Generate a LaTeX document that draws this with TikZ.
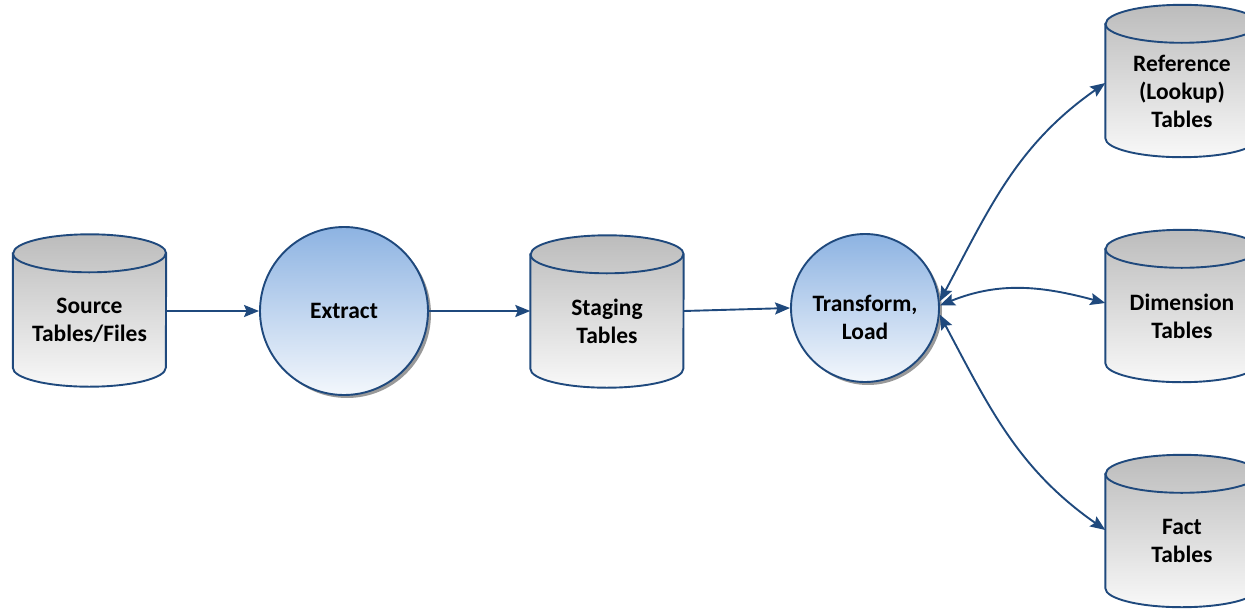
\documentclass[tikz,border=0pt]{standalone}
\usepackage{fontspec}
\setmainfont{Carlito}
\usetikzlibrary{shadows,arrows.meta}
\pgfdeclarelayer{bg}
\pgfsetlayers{bg,main}
\definecolor{linec}{HTML}{1F497D}
\definecolor{cyltop}{HTML}{BCBCBC}
\definecolor{cylbot}{HTML}{F8F8F8}
\definecolor{balltop}{HTML}{8DB3E2}
\definecolor{ballbot}{HTML}{F3F7FC}
\tikzset{
  lbl/.style={font=\fontsize{23.5}{28}\selectfont\bfseries, align=center},
  % a store is a 153 x 152 box; the drum outline is drawn behind it
  store/.style={rectangle, inner sep=0pt, minimum width=153pt, minimum height=152pt,
    label={[lbl, yshift=-10pt]center:#1}},
  drumline/.style={draw=linec, line width=1.9pt},
  proc/.style={lbl, circle, draw=linec, line width=1.9pt, inner sep=0pt,
    top color=balltop, bottom color=ballbot,
    drop shadow={shadow xshift=3pt, shadow yshift=-3pt, fill=black!50, opacity=0.8}},
  flow/.style={draw=linec, line width=1.9pt, -{Stealth[length=15pt, width=12pt, inset=2.5pt]}},
  flow2/.style={flow, {Stealth[length=15pt, width=12pt, inset=2.5pt]}-{Stealth[length=15pt, width=12pt, inset=2.5pt]}}
}
% drum (cylinder) outline for the store node #1
\newcommand\drum[1]{%
  \path[drumline, top color=cyltop, bottom color=cylbot]
    ([yshift=-19pt]#1.north west) -- ([yshift=19pt]#1.south west)
    arc[start angle=180, end angle=360, x radius=76.5pt, y radius=19pt]
    -- ([yshift=-19pt]#1.north east)
    arc[start angle=0, end angle=180, x radius=76.5pt, y radius=19pt] -- cycle;
  \draw[drumline] ([yshift=-19pt]#1.north west)
    arc[start angle=180, end angle=360, x radius=76.5pt, y radius=19pt];
}
\begin{document}
\begin{tikzpicture}[x=1pt, y=1pt]
  \useasboundingbox (0,0) rectangle (1245,-608);
  \clip (0,0) rectangle (1245,-608);

  % data stores
  \node[store={Source\\Tables/Files}]          (src)  at (89.5,-310.5) {};
  \node[store={Staging\\Tables}]               (stg)  at (607,-311.5)  {};
  \node[store={Reference\\(Lookup)\\Tables}]   (ref)  at (1182,-81)    {};
  \node[store={Dimension\\Tables}]             (dim)  at (1182,-306)   {};
  \node[store={Fact\\Tables}]                  (fact) at (1182,-531)   {};
  \begin{pgfonlayer}{bg}
    \drum{src}\drum{stg}\drum{ref}\drum{dim}\drum{fact}
  \end{pgfonlayer}

  % processes
  \node[proc, minimum size=168pt] (ext) at (344,-311) {Extract};
  \node[proc, minimum size=148pt, label={[lbl, yshift=-9pt]center:Transform,\\Load}]
    (tl) at (865,-308) {};

  % flows
  \draw[flow] (src.east |- 0,-311) -- (ext.west);
  \draw[flow] (ext.east) -- (stg.west |- 0,-311);
  \draw[flow] (stg.east |- 0,-311) -- (tl.west);
  \draw[flow2] (tl.5) to[out=62, in=215] (ref.west |- 0,-83);
  \draw[flow2] (tl.2) to[out=22, in=165] (dim.west |- 0,-303);
  \draw[flow2] (tl.-5) to[out=-62, in=145] (fact.west |- 0,-530);
\end{tikzpicture}
\end{document}
